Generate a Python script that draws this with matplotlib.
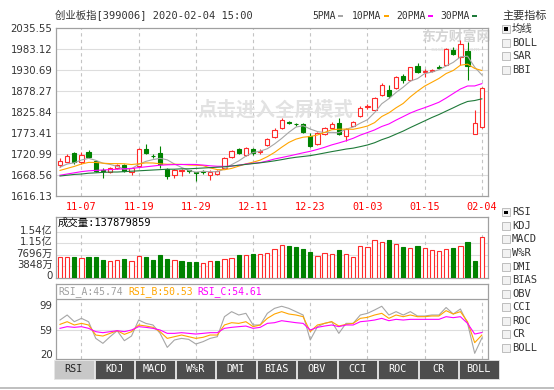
import matplotlib
matplotlib.use('Agg')
import matplotlib.pyplot as plt
from matplotlib.patches import Rectangle
from matplotlib.transforms import ScaledTranslation
import numpy as np

plt.rcParams['font.family'] = ['DejaVu Sans', 'Noto Sans CJK SC']
MONO = ['DejaVu Sans Mono', 'Noto Sans CJK SC']

# ---------------- data ----------------
opens = [1693, 1702, 1723, 1702, 1727, 1704, 1681, 1675, 1685, 1693,
         1675, 1691, 1733, 1717, 1724, 1683, 1668, 1678, 1680, 1675,
         1678, 1668, 1671, 1687, 1714, 1734, 1718, 1733, 1726, 1743,
         1764, 1785, 1801, 1797, 1795, 1766, 1745, 1770, 1787, 1799,
         1766, 1792, 1815, 1838, 1832, 1869, 1882, 1886, 1916, 1906,
         1941, 1925, 1929, 1938, 1944, 1981, 1963, 1977, 1772, 1788]
closes = [1704, 1715, 1700, 1718, 1714, 1679, 1679, 1685, 1693, 1679,
          1685, 1733, 1723, 1715, 1695, 1666, 1681, 1680, 1678, 1673,
          1676, 1677, 1679, 1712, 1728, 1723, 1737, 1723, 1729, 1759,
          1782, 1806, 1799, 1795, 1776, 1741, 1774, 1787, 1797, 1772,
          1784, 1801, 1836, 1840, 1861, 1894, 1865, 1913, 1906, 1937,
          1925, 1928, 1931, 1936, 1983, 1971, 1996, 1940, 1799, 1886]
highs = [1710, 1720, 1726, 1726, 1731, 1706, 1685, 1688, 1697, 1696,
         1687, 1735, 1747, 1721, 1741, 1685, 1683, 1683, 1682, 1677,
         1680, 1680, 1681, 1713, 1731, 1737, 1739, 1736, 1733, 1761,
         1785, 1810, 1804, 1799, 1798, 1773, 1776, 1789, 1800, 1812,
         1786, 1803, 1841, 1845, 1864, 1897, 1894, 1916, 1921, 1939,
         1948, 1934, 1934, 1942, 1985, 1988, 2006, 2000, 1832, 1888]
lows = [1688, 1700, 1697, 1697, 1712, 1676, 1661, 1673, 1683, 1677,
        1668, 1690, 1721, 1712, 1686, 1659, 1662, 1665, 1674, 1654,
        1672, 1655, 1668, 1686, 1712, 1721, 1716, 1718, 1722, 1741,
        1760, 1783, 1796, 1792, 1774, 1738, 1743, 1768, 1785, 1769,
        1754, 1790, 1813, 1834, 1830, 1867, 1862, 1884, 1898, 1904,
        1923, 1913, 1926, 1933, 1942, 1969, 1944, 1906, 1770, 1786]

ma5 = [1688, 1696, 1699, 1706, 1710.2, 1705.2, 1698, 1695, 1690, 1683,
       1684.2, 1695, 1702.6, 1707, 1710.2, 1706.4, 1696, 1687.4, 1680, 1675.6,
       1677.6, 1676.8, 1676.6, 1683.4, 1694.4, 1703.8, 1715.8, 1724.6, 1728, 1734.2,
       1746, 1759.8, 1775, 1788.2, 1791.6, 1783.4, 1777, 1774.6, 1775, 1774.2,
       1782.8, 1788.2, 1798, 1806.6, 1824.4, 1846.4, 1859.2, 1874.6, 1887.8, 1903,
       1909.2, 1921.8, 1925.4, 1931.4, 1940.6, 1949.8, 1963.4, 1965.2, 1937.8, 1918.4]
ma10 = [1680, 1685, 1690, 1696, 1700, 1700, 1698, 1697, 1697, 1696.6,
        1694.7, 1696.5, 1698.8, 1698.5, 1696.6, 1695.3, 1695.5, 1695, 1693.5, 1692.9,
        1692, 1686.4, 1682, 1681.7, 1685, 1690.7, 1696.3, 1700.6, 1705.7, 1714.3,
        1724.9, 1737.8, 1749.8, 1758.1, 1762.9, 1764.7, 1768.4, 1774.8, 1781.6, 1782.9,
        1783.1, 1782.6, 1786.3, 1790.8, 1799.3, 1814.6, 1823.7, 1836.3, 1847.2, 1863.7,
        1877.8, 1890.5, 1900, 1909.6, 1921.8, 1929.5, 1942.6, 1945.3, 1934.6, 1929.5]
ma20 = [1668, 1671, 1674, 1677, 1679, 1680, 1681, 1682, 1683, 1684,
        1685, 1687, 1689, 1691, 1693, 1694, 1694.5, 1694.8, 1695, 1694.8,
        1693.4, 1691.5, 1690.4, 1690.1, 1690.8, 1693, 1695.9, 1697.8, 1699.6, 1703.6,
        1708.5, 1712.1, 1715.9, 1719.9, 1724, 1727.7, 1732.4, 1737.7, 1743.7, 1748.6,
        1754, 1760.2, 1768.1, 1774.5, 1781.1, 1789.7, 1796, 1805.6, 1814.4, 1823.3,
        1830.5, 1836.6, 1843.2, 1850.2, 1860.6, 1872, 1883.2, 1890.8, 1890.9, 1896.6]
ma30 = [1666, 1668, 1670, 1671, 1673, 1674, 1675, 1676, 1676, 1677,
        1678, 1679, 1680, 1681, 1682, 1683, 1683, 1684, 1684, 1685,
        1686, 1687, 1688, 1689, 1691, 1693, 1695, 1697, 1699, 1701.3,
        1703.9, 1706.9, 1710.2, 1712.8, 1714.8, 1716.9, 1720.1, 1723.5, 1726.9, 1730,
        1733.3, 1735.6, 1739.4, 1743.5, 1749.1, 1756.7, 1762.8, 1770.6, 1778.2, 1787,
        1795.3, 1803.6, 1812, 1819.5, 1828, 1836.3, 1844.9, 1852.1, 1854.5, 1858.7]

# volume in 万 (10^4 shares)
volumes = [6840, 6840, 6840, 6640, 6840, 6840, 5820, 5470, 5820, 6400,
           5470, 7180, 7080, 5820, 7530, 6160, 5820, 5470, 5270, 5200,
           5030, 5710, 5470, 6400, 6740, 7530, 7770, 8110, 8110, 8450,
           9820, 10950, 10740, 10400, 9820, 8690, 7320, 8210, 8010, 9480,
           8010, 7080, 10610, 10400, 12660, 11980, 12800, 11430, 10400, 10060,
           10740, 10060, 9480, 9140, 9720, 10060, 10740, 12110, 5710, 13787.9859]
vol_up = [1, 1, 0, 1, 0, 0, 0, 1, 1, 0, 1, 1, 0, 0, 0, 0, 1, 0, 0, 0,
          1, 1, 0, 1, 1, 0, 1, 0, 1, 1, 1, 1, 0, 0, 0, 0, 1, 1, 1, 0,
          1, 1, 1, 1, 1, 1, 0, 1, 0, 1, 0, 1, 1, 1, 1, 0, 1, 0, 0, 1]

rsi_a = [74.8, 82.9, 72.1, 77.5, 72, 45.2, 37.2, 47.9, 57.6, 41.5,
         49, 74.8, 69.4, 66.8, 53.3, 30.7, 42.6, 45.2, 43.6, 36.1,
         39.9, 45.2, 47.9, 80.2, 88.3, 82.9, 85.6, 66.8, 66.8, 85.6,
         93.6, 97, 93.6, 88.3, 82.9, 42.6, 64, 69.4, 72.1, 53.3,
         69.4, 69.4, 82.9, 85.6, 91, 97, 82.9, 88.3, 82.9, 88.3,
         81.3, 81.3, 82.9, 82.9, 95, 84.5, 92.6, 69.4, 21.1, 45.74]
rsi_b = [67.8, 72.1, 66.8, 69.4, 66.8, 50.6, 49, 53.3, 57.6, 51.7,
         56, 66.8, 65.2, 63, 56, 45.2, 47.9, 50.6, 47.9, 45.2,
         46.9, 50.6, 50.6, 66.8, 70.5, 69.4, 72.1, 64.1, 66.8, 77.5,
         84.5, 88.3, 84.5, 82.9, 80.2, 56, 66.8, 69.4, 72.1, 65.1,
         67.8, 69.4, 77.5, 79.1, 82.9, 85.6, 77.5, 82.9, 80.2, 82.9,
         80.2, 80.2, 81.3, 81.3, 89.9, 84.5, 88.3, 72.1, 38.3, 50.53]
rsi_c = [61.4, 64.1, 63, 64.1, 61.4, 56, 54.4, 56, 57.6, 56,
         58.7, 64.1, 63, 61.4, 58.7, 53.3, 53.3, 54.4, 53.3, 52.2,
         53.3, 54.4, 54.4, 61.4, 63, 64.1, 65.1, 61.4, 63, 69.4,
         70.5, 73.7, 72.1, 70.5, 69.4, 58.7, 63, 65.1, 66.8, 64.1,
         66.8, 66.8, 72.1, 73.2, 74.8, 77.5, 73.7, 75.9, 74.8, 75.9,
         75.9, 75.9, 75.9, 75.9, 80.2, 78.6, 80.2, 69.4, 52.2, 54.61]

tick_idx = [3, 11, 19, 27, 35, 43, 51, 59]
date_labels = ['11-07', '11-19', '11-29', '12-11', '12-23', '01-03', '01-15', '02-04']
price_ticks = [2035.55, 1983.12, 1930.69, 1878.27, 1825.84, 1773.41, 1720.99, 1668.56, 1616.13]
vol_ticks = [0, 3848, 7696, 11544, 15392]
vol_tick_labels = ['0', '3848万', '7696万', '1.15亿', '1.54亿']
rsi_ticks = [20, 59, 99]
main_inds = ['均线', 'BOLL', 'SAR', 'BBI']
sub_inds = ['RSI', 'KDJ', 'MACD', 'W%R', 'DMI', 'BIAS', 'OBV', 'CCI', 'ROC', 'CR', 'BOLL']
tabs = ['RSI', 'KDJ', 'MACD', 'W%R', 'DMI', 'BIAS', 'OBV', 'CCI', 'ROC', 'CR', 'BOLL']

# ---------------- figure ----------------
W, H, DPI = 554, 390, 100
fig = plt.figure(figsize=(W / DPI, H / DPI), dpi=DPI)
fig.patch.set_facecolor('white')


def px_axes(x0, y0, x1, y1):
    return fig.add_axes([x0 / W, 1 - y1 / H, (x1 - x0) / W, (y1 - y0) / H])


RED = '#ff2a2a'
GREEN = '#008200'
FRAME = '#a0a0a0'
GRID = '#dddddd'
VGRID = '#c4c4c4'
C5, C10, C20, C30 = '#a6a6a6', '#ffa500', '#ff00ff', '#1f7a3a'
TXT = '#333333'
XL = (-0.56, 59.86)

o = np.array(opens, float)
c = np.array(closes, float)
hi = np.array(highs, float)
lo = np.array(lows, float)
x = np.arange(len(c))
up = c >= o


def style(ax):
    for s in ax.spines.values():
        s.set_color(FRAME)
        s.set_linewidth(0.9)
    ax.tick_params(length=0, labelsize=7.3, colors=TXT, pad=2.5)
    ax.set_xlim(*XL)
    ax.set_facecolor('white')


# ---- main price panel ----
ax = px_axes(56, 28, 488, 196)
style(ax)
ax.set_ylim(price_ticks[-1], price_ticks[0])
ax.set_yticks(price_ticks)
ax.set_yticklabels(['%.2f' % v for v in price_ticks])
ax.hlines(price_ticks[1:-1], XL[0], XL[1], color=GRID, lw=0.8, zorder=0)
ax.vlines(tick_idx, price_ticks[-1], price_ticks[0], color=VGRID, lw=0.8,
          linestyles=(0, (3, 3)), zorder=0)
ax.set_xticks(tick_idx)
ax.set_xticklabels(date_labels, color='#ff0000', fontfamily=MONO, fontsize=7.3)
ax.tick_params(axis='x', pad=4, colors='#ff0000')

ax.text(0.509, 0.512, '点击进入全屏模式', transform=ax.transAxes, ha='center', va='center',
        fontsize=14, color='#e2e2e2', fontweight='bold', zorder=1)
ax.text(0.925, 0.948, '东方财富网', transform=ax.transAxes, ha='center', va='center',
        fontsize=10, color='#d4d4d4', fontweight='bold', zorder=1)
ax.text(0.925, 0.875, 'eastmoney.com', transform=ax.transAxes, ha='center', va='center',
        fontsize=4.5, color='#dcdcdc', zorder=1)

edge = [RED if u else GREEN for u in up]
face = ['white' if u else GREEN for u in up]
ax.vlines(x, lo, hi, colors=edge, lw=0.8, zorder=2)
ax.bar(x, np.abs(c - o), bottom=np.minimum(o, c), width=0.6, color=face,
       edgecolor=edge, linewidth=0.8, zorder=3)
ax.plot(x, ma5, color=C5, lw=0.8, zorder=4)
ax.plot(x, ma10, color=C10, lw=0.8, zorder=4)
ax.plot(x, ma20, color=C20, lw=0.8, zorder=4)
ax.plot(x, ma30, color=C30, lw=0.8, zorder=4)

# ---- volume panel ----
axv = px_axes(56, 217, 488, 278)
style(axv)
axv.set_ylim(-101, 20444)
axv.set_yticks(vol_ticks)
axv.set_yticklabels(vol_tick_labels)
for lab in axv.get_yticklabels():
    lab.set_transform(lab.get_transform() + ScaledTranslation(0, 2.3 / DPI, fig.dpi_scale_trans))
axv.set_xticks([])
axv.hlines(vol_ticks[1:], XL[0], XL[1], color=GRID, lw=0.8, zorder=0)
axv.vlines(tick_idx, 0, 15392, color=VGRID, lw=0.8, linestyles=(0, (3, 3)), zorder=0)
vedge = [RED if u else GREEN for u in vol_up]
vface = ['white' if u else GREEN for u in vol_up]
axv.bar(x, volumes, width=0.6, color=vface, edgecolor=vedge, linewidth=0.8, zorder=3)

# ---- RSI panel ----
axr = px_axes(56, 284, 488, 359.3)
style(axr)
axr.set_ylim(11.46, 132.9)
axr.set_yticks(rsi_ticks)
axr.set_yticklabels([str(v) for v in rsi_ticks])
axr.set_xticks([])
axr.axhline(108.2, color=FRAME, lw=0.9, zorder=1)
axr.axhline(59, color=GRID, lw=0.8, zorder=0)
axr.vlines(tick_idx, 11.46, 108.2, color=VGRID, lw=0.8, linestyles=(0, (3, 3)), zorder=0)
axr.plot(x, rsi_a, color=C5, lw=0.8, zorder=3)
axr.plot(x, rsi_b, color=C10, lw=0.8, zorder=3)
axr.plot(x, rsi_c, color=C20, lw=0.8, zorder=3)

# ---- overlay for static texts / widgets ----
ov = fig.add_axes([0, 0, 1, 1], zorder=10)
ov.set_xlim(0, W)
ov.set_ylim(H, 0)
ov.axis('off')
ov.patch.set_alpha(0)


def T(xp, yp, s, **kw):
    kw.setdefault('fontfamily', MONO)
    kw.setdefault('fontsize', 7.3)
    kw.setdefault('color', TXT)
    ov.text(xp, yp, s, va='center', **kw)


T(55, 16, '创业板指[399006] 2020-02-04 15:00', fontsize=7.5)

# MA legend
leg = [('5PMA', 312, C5), ('10PMA', 352, C10), ('20PMA', 396, C20), ('30PMA', 440, C30)]
for name, xp, col in leg:
    T(xp, 16, name, fontsize=7)
    wtxt = len(name) * 5.9
    ov.add_patch(Rectangle((xp + wtxt + 2, 15), 5, 2, fc=col, ec='none'))

T(58, 223, '成交量:137879859', color='black', fontsize=7.5)
T(58, 292, 'RSI_A:45.74', color='#a0a0a0', fontsize=7)
T(128, 292, 'RSI_B:50.53', color='#ffa500', fontsize=7)
T(197, 292, 'RSI_C:54.61', color='#ff00ff', fontsize=7)


def checkbox(yc, label, checked):
    ov.add_patch(Rectangle((502, yc - 4), 8, 8, fc='#f2f2f2', ec='#b4b4b4', lw=0.6))
    if checked:
        ov.add_patch(Rectangle((504.2, yc - 1.8), 3.6, 3.6, fc='black', ec='none'))
    T(512, yc, label, fontsize=7.5)


T(502, 16, '主要指标', fontsize=8)
for i, name in enumerate(main_inds):
    checkbox(29 + 13.6 * i, name, i == 0)
for i, name in enumerate(sub_inds):
    checkbox(212.3 + 13.55 * i, name, i == 0)

# tabs
for i, name in enumerate(tabs):
    x0 = 54 + 40.5 * i
    sel = (i == 0)
    ov.add_patch(Rectangle((x0, 360), 39.5, 19, fc='#c8c8c8' if sel else '#4d4d4d',
                           ec='#e6e6e6', lw=0.6))
    ov.text(x0 + 19.75, 369.5, name, ha='center', va='center', fontfamily=MONO,
            fontsize=7.3, color='#222222' if sel else 'white')

ov.plot([0, W], [388, 388], color='#b4b4b4', lw=1.2)

fig.savefig('out.png', dpi=DPI, facecolor='white')
